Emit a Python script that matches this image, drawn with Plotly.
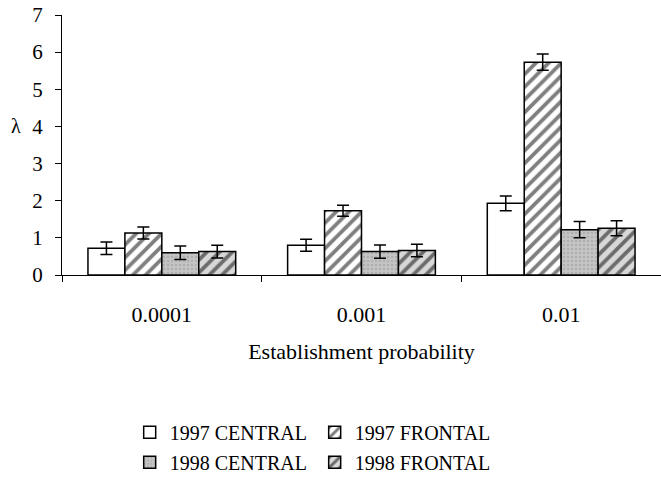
import plotly.graph_objects as go

categories = ["0.0001", "0.001", "0.01"]
series_names = ["1997 CENTRAL", "1997 FRONTAL", "1998 CENTRAL", "1998 FRONTAL"]
c97 = [0.72, 0.80, 1.93]
f97 = [1.13, 1.73, 5.73]
c98 = [0.60, 0.63, 1.22]
f98 = [0.63, 0.66, 1.26]
c97_err = [0.17, 0.16, 0.20]
f97_err = [0.16, 0.15, 0.22]
c98_err = [0.18, 0.18, 0.22]
f98_err = [0.17, 0.17, 0.20]
y_ticks = [0, 1, 2, 3, 4, 5, 6, 7]

FONT = "Liberation Serif"

styles = [
    dict(shape="", bgcolor="white", fgcolor="black", size=8, solidity=0.3),
    dict(shape="/", bgcolor="white", fgcolor="black", size=9, solidity=0.42),
    dict(shape=".", bgcolor="#c4c4c4", fgcolor="#999999", size=4, solidity=0.3),
    dict(shape="/", bgcolor="#d8d8d8", fgcolor="black", size=9, solidity=0.42),
]
values = [c97, f97, c98, f98]
errs = [c97_err, f97_err, c98_err, f98_err]
legends = ["legend", "legend", "legend2", "legend2"]

fig = go.Figure()
for name, v, e, st, lg in zip(series_names, values, errs, styles, legends):
    fig.add_trace(go.Bar(
        x=categories, y=v, name=name, legend=lg,
        marker=dict(color=st["bgcolor"], line=dict(color="black", width=1.5),
                    pattern=st),
        error_y=dict(type="data", array=e, visible=True, color="black",
                     thickness=1.5, width=6),
    ))

leg_common = dict(orientation="h", xanchor="left", yanchor="middle",
                  entrywidth=140, font=dict(family=FONT, size=20, color="black"),
                  traceorder="normal", itemwidth=30, bgcolor="rgba(0,0,0,0)")

fig.update_layout(
    width=661, height=478,
    margin=dict(l=62, r=0, t=15, b=203, autoexpand=False),
    paper_bgcolor="white", plot_bgcolor="white",
    barmode="group", bargap=0.26, bargroupgap=0,
    font=dict(family=FONT, size=22, color="black"),
    showlegend=True,
    legend=dict(x=0.113, y=-0.605, **leg_common),
    legend2=dict(x=0.113, y=-0.72, **leg_common),
    xaxis=dict(
        showline=True, linecolor="black", linewidth=1.2, automargin=False,
        ticks="outside", tickson="boundaries", ticklen=6, tickcolor="black",
        ticklabelstandoff=19, tickfont=dict(family=FONT, size=22),
        title=dict(text="Establishment probability", standoff=18,
                   font=dict(family=FONT, size=22)),
        showgrid=False,
    ),
    yaxis=dict(
        range=[0, 7], tickvals=y_ticks, showline=True, linecolor="black", linewidth=1.2,
        ticks="outside", ticklen=6, tickcolor="black", ticklabelstandoff=8,
        automargin=False,
        tickfont=dict(family=FONT, size=21), showgrid=False, zeroline=False,
    ),
    annotations=[dict(text="λ", xref="paper", yref="y", x=-0.065, y=4, showarrow=False,
                      xanchor="right", font=dict(family=FONT, size=20))],
)

fig.write_html("out.html")
